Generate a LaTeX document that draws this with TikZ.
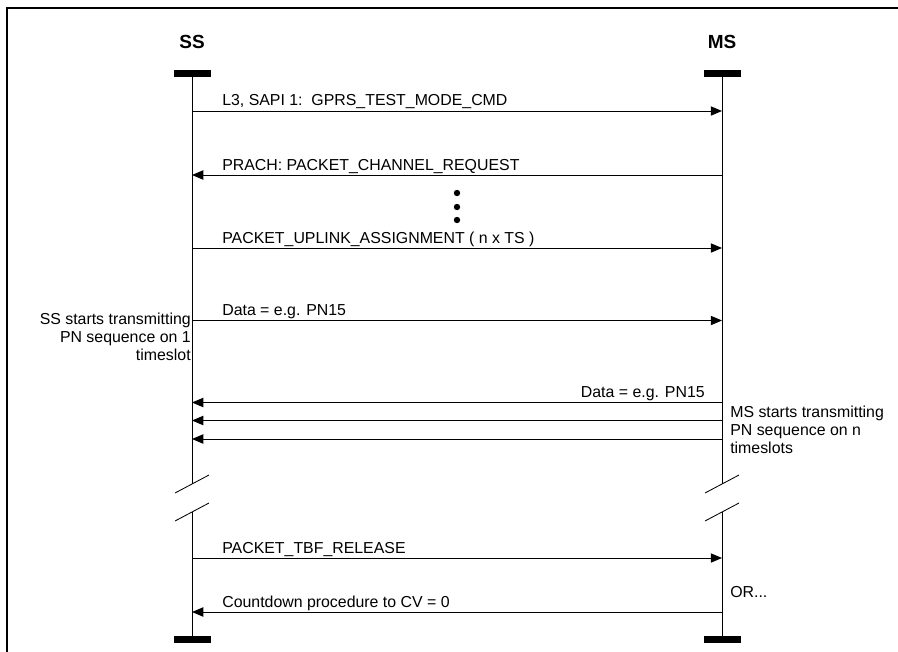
\documentclass[tikz,border=0pt]{standalone}
\usepackage{fontspec}
\setsansfont{Liberation Sans}
\usetikzlibrary{arrows.meta}
\tikzset{
  seq head/.style={font=\sffamily\bfseries\fontsize{13.5}{15}\selectfont, inner sep=0pt},
  seq label/.style={font=\sffamily\fontsize{11.3}{12.7}\selectfont, inner sep=0pt},
  seq frame/.style={draw=black, line width=1.4pt},
  seq bar/.style={fill=black, minimum width=9.25mm, minimum height=1.75mm, inner sep=0pt},
  seq life/.style={draw=black, line width=.7pt},
  seq cut/.style={draw=black, line width=.6pt},
  seq msg/.style={draw=black, line width=.7pt, -{Triangle[length=8pt,width=6.6pt]}},
  seq dot/.style={circle, fill=black, minimum size=1.6mm, inner sep=0pt},
}

\begin{document}
\begin{tikzpicture}[x=.25mm,y=-.25mm]
  \useasboundingbox (0,0) rectangle (898,651);
  \draw[seq frame] (7,660) -- (7,8) -- (905,8);

  % entities and lifelines
  \node[seq head] (ss) at (192,42) {SS};
  \node[seq head] (ms) at (722,42) {MS};
  \node[seq bar] (ssTop) at (192,73.5) {};
  \node[seq bar] (msTop) at (722,73.5) {};
  \node[seq bar] (ssEnd) at (192,639.5) {};
  \node[seq bar] (msEnd) at (722,639.5) {};
  \coordinate (ssCutA) at (192,484);
  \coordinate (ssCutB) at (192,512);
  \coordinate (msCutA) at (722,484);
  \coordinate (msCutB) at (722,512);
  \draw[seq life] (ssTop) -- (ssCutA) (ssCutB) -- (ssEnd);
  \draw[seq life] (msTop) -- (msCutA) (msCutB) -- (msEnd);
  \foreach \c in {ssCutA,ssCutB,msCutA,msCutB}
    \draw[seq cut] ([shift={(-17,9)}]\c) -- ([shift={(17,-9)}]\c);

  % message rows
  \foreach \n/\y in {1/111,2/175,3/248,4/320.5,5/402.5,6/420.5,7/439,8/558,9/612}{
    \coordinate (ss\n) at (192,\y);
    \coordinate (ms\n) at (722,\y);
  }

  % 1 -- test mode
  \draw[seq msg] (ss1) -- (ms1);
  \node[seq label, anchor=base west] (m1) at (222,105) {L3, SAPI 1:\ \ GPRS\_TEST\_MODE\_CMD};

  % 2 -- channel request
  \draw[seq msg] (ms2) -- (ss2);
  \node[seq label, anchor=base west] (m2) at (222,170) {PRACH: PACKET\_CHANNEL\_REQUEST};
  \foreach \y [count=\i] in {193,207,220}
    \node[seq dot] (dot\i) at (457,\y) {};

  % 3 -- uplink assignment
  \draw[seq msg] (ss3) -- (ms3);
  \node[seq label, anchor=base west] (m3) at (222,243) {PACKET\_UPLINK\_ASSIGNMENT ( n x TS )};

  % 4 -- downlink data
  \draw[seq msg] (ss4) -- (ms4);
  \node[seq label, anchor=base west] (m4) at (222,315.5) {Data = e.g. PN15};
  \node[seq label, anchor=north east, align=right] (ssNote) at (191,313)
    {SS starts transmitting\\PN sequence on 1\\timeslot};

  % 5 -- uplink data on n timeslots
  \draw[seq msg] (ms5) -- (ss5);
  \draw[seq msg] (ms6) -- (ss6);
  \draw[seq msg] (ms7) -- (ss7);
  \node[seq label, anchor=base east] (m5) at (705,397.5) {Data = e.g. PN15};
  \node[seq label, anchor=north west, align=left] (msNote) at (730,406)
    {MS starts transmitting\\PN sequence on n\\timeslots};

  % 6 -- release
  \draw[seq msg] (ss8) -- (ms8);
  \node[seq label, anchor=base west] (m8) at (222,553) {PACKET\_TBF\_RELEASE};
  \node[seq label, anchor=base west] (or) at (730,597.7) {OR...};
  \draw[seq msg] (ms9) -- (ss9);
  \node[seq label, anchor=base west] (m9) at (222,607) {Countdown procedure to CV = 0};
\end{tikzpicture}
\end{document}
